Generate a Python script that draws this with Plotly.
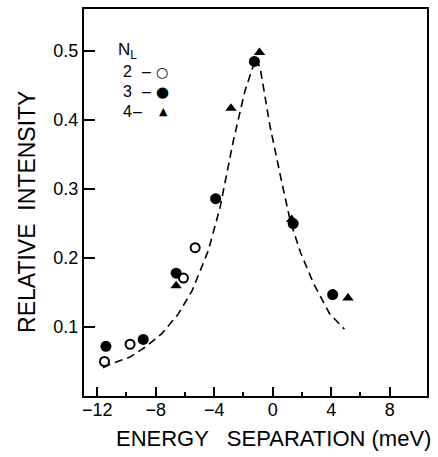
import plotly.graph_objects as go

# N_L = 2 (open circles)
x_n2 = [-11.5, -9.75, -6.1, -5.3]
y_n2 = [0.050, 0.075, 0.171, 0.215]
# N_L = 3 (filled circles)
x_n3 = [-11.4, -8.85, -6.6, -3.9, -1.25, 1.4, 4.1]
y_n3 = [0.072, 0.082, 0.178, 0.286, 0.485, 0.250, 0.147]
# N_L = 4 (triangles)
x_n4 = [-6.6, -2.85, -0.9, 1.3, 5.15]
y_n4 = [0.160, 0.417, 0.498, 0.256, 0.142]
# dashed fit curve
x_fit = [-11.6, -11.0, -9.8, -8.7, -7.6, -6.45, -5.5, -4.85, -4.4, -3.6, -2.7, -1.9,
         -1.15, -0.85, -0.2, 0.6, 1.2, 1.9, 2.8, 3.9, 4.9]
y_fit = [0.041, 0.047, 0.056, 0.071, 0.090, 0.119, 0.153, 0.187, 0.211, 0.273, 0.369, 0.442,
         0.490, 0.475, 0.393, 0.312, 0.254, 0.208, 0.163, 0.119, 0.097]

x_ticks = [-12, -8, -4, 0, 4, 8]
x_minor = [-10, -6, -2, 2, 6]
y_ticks = [0.1, 0.2, 0.3, 0.4, 0.5]
y_tick_text = ["0.1", "0.2", "0.3", "0.4", "0.5"]

FONT = "Liberation Sans, Arial, Helvetica, sans-serif"

fig = go.Figure()
fig.add_trace(go.Scatter(x=x_fit, y=y_fit, mode="lines",
                         line=dict(color="black", width=1.6, dash="8px,5px"),
                         showlegend=False, hoverinfo="skip"))
fig.add_trace(go.Scatter(x=x_n2, y=y_n2, mode="markers", name="2",
                         marker=dict(symbol="circle-open", size=9, color="black",
                                     line=dict(width=2, color="black")), showlegend=False))
fig.add_trace(go.Scatter(x=x_n3, y=y_n3, mode="markers", name="3",
                         marker=dict(symbol="circle", size=11, color="black"), showlegend=False))
fig.add_trace(go.Scatter(x=x_n4, y=y_n4, mode="markers", name="4",
                         marker=dict(symbol="triangle-up", size=10, color="black"), showlegend=False))

W, H = 438, 457
L, R, T, B = 84, 11, 7, 61
pw, ph = W - L - R, H - T - B

def px(xp):
    return (xp - L) / pw

def py(yp):
    return (H - B - yp) / ph

fig.update_layout(
    width=W, height=H,
    margin=dict(l=L, r=R, t=T, b=B),
    paper_bgcolor="white", plot_bgcolor="white",
    font=dict(family=FONT, color="black", size=18),
    xaxis=dict(range=[-12.9, 10.55], tickvals=x_ticks, ticks="inside", ticklen=9,
               tickwidth=1.5, tickcolor="black", showgrid=False, zeroline=False,
               showline=True, linecolor="black", linewidth=2, mirror=True,
               ticklabelstandoff=-4,
               tickfont=dict(size=18, family=FONT, color="black"),
               minor=dict(tickvals=x_minor, ticks="inside", ticklen=4, tickwidth=1.5,
                          tickcolor="black", showgrid=False)),
    yaxis=dict(range=[0, 0.561], tickvals=y_ticks, ticktext=y_tick_text, ticks="inside",
               ticklen=11, tickwidth=1.5, tickcolor="black", showgrid=False, zeroline=False,
               showline=True, linecolor="black", linewidth=2, mirror=True,
               tickfont=dict(size=18, family=FONT, color="black")),
    showlegend=False,
)

def f(size, fam=FONT):
    return dict(size=size, family=fam, color="black")

ann = []
ann.append(dict(text="RELATIVE  INTENSITY", xref="paper", yref="paper", x=px(27), y=py(211),
                xanchor="center", yanchor="middle", textangle=-90, showarrow=False,
                font=f(23)))
ann.append(dict(text="ENERGY   SEPARATION (meV)", xref="paper", yref="paper", x=px(273), y=py(439),
                xanchor="center", yanchor="middle", showarrow=False,
                font=f(22)))
# legend block
ann.append(dict(text="N<sub>L</sub>", xref="paper", yref="paper", x=px(116), y=py(49),
                xanchor="left", yanchor="middle", showarrow=False, font=f(17)))
for lab, yy, dash_x in [("2", 70, 140), ("3", 90, 140), ("4", 110, 131)]:
    ann.append(dict(text=lab, xref="paper", yref="paper", x=px(121), y=py(yy),
                    xanchor="left", yanchor="middle", showarrow=False, font=f(16)))
    ann.append(dict(text="–", xref="paper", yref="paper", x=px(dash_x), y=py(yy),
                    xanchor="left", yanchor="middle", showarrow=False, font=f(16)))
ann.append(dict(text="○", xref="paper", yref="paper", x=px(162), y=py(70),
                xanchor="center", yanchor="middle", showarrow=False, font=f(14, "DejaVu Sans")))
ann.append(dict(text="●", xref="paper", yref="paper", x=px(162), y=py(90),
                xanchor="center", yanchor="middle", showarrow=False, font=f(15, "DejaVu Sans")))
ann.append(dict(text="▲", xref="paper", yref="paper", x=px(163), y=py(110),
                xanchor="center", yanchor="middle", showarrow=False, font=f(11, "DejaVu Sans")))
fig.update_layout(annotations=ann)

fig.write_html("out.html", config={"displayModeBar": False},
               post_script="document.body.style.margin='0px';document.body.style.overflow='hidden';")
